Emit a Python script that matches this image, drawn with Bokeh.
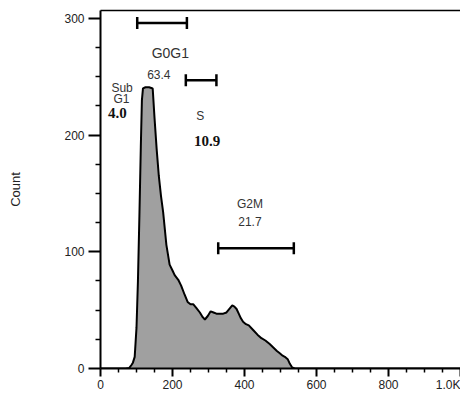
import numpy as np
from bokeh.plotting import figure
from bokeh.models import Range1d, FixedTicker, ColumnDataSource, LinearAxis
from bokeh.core.properties import value
from bokeh.embed import file_html
from bokeh.resources import INLINE

# ---- data ----
dna_content = [0, 70, 80, 86, 90, 95, 100, 104, 108, 112, 115, 118, 125, 135, 145, 150, 156, 162,
               168, 174, 183, 192, 200, 206, 216, 224, 234, 242, 250, 258, 266, 276, 284, 290,
               298, 306, 314, 322, 332, 341, 350, 358, 366, 372, 378, 384, 390, 396, 404, 412,
               424, 436, 447, 458, 470, 480, 490, 498, 506, 512, 520, 526, 532, 540, 1000]
cell_count = [0, 0, 0.5, 3, 5, 10, 35, 75, 130, 190, 230, 240, 241, 241, 240, 215, 188, 165,
              148, 134, 106, 89, 84, 80, 76, 71, 63, 57, 55, 55, 52, 48, 44, 42,
              45, 49, 48, 47, 47, 47, 48, 51, 54, 53, 51, 47, 43, 40, 38, 37,
              33, 29, 26, 24, 21, 18, 15, 13, 11, 10, 8, 4, 1, 0, 0]

x_ticks = [0, 200, 400, 600, 800, 1000]
x_minor = [50, 100, 150, 250, 300, 350, 450, 500, 550, 650, 700, 750, 850, 900, 950]
y_ticks = [0, 100, 200, 300]
y_minor = [25, 50, 75, 125, 150, 175, 225, 250, 275]
y_top = 306.8

gate_x0 = [102, 237, 327]
gate_x1 = [240, 322, 537]
gate_y = [296, 247, 103]

label_text = ["G0G1", "63.4", "Sub", "G1", "S", "G2M", "21.7"]
label_x = [194, 162, 60, 58, 277, 415, 415]
label_y = [270, 252, 240.5, 231, 216, 141, 126]
label_size = ["14px", "12px", "12px", "12px", "12px", "12px", "12px"]

pct_text = ["4.0", "10.9"]
pct_x = [47, 296]
pct_y = [219, 195]

p = figure(width=460, height=394, x_range=Range1d(0, 1000), y_range=Range1d(0, y_top),
           output_backend="svg", toolbar_location=None,
           min_border_left=100, min_border_right=0, min_border_top=10, min_border_bottom=24)
p.background_fill_color = "white"
p.border_fill_color = "white"
p.outline_line_color = None
p.xgrid.visible = False
p.ygrid.visible = False

# top frame border as a bare axis line
top_axis = LinearAxis(ticker=FixedTicker(ticks=[]), major_tick_out=0, major_tick_in=0,
                      minor_tick_out=0, minor_tick_in=0, major_label_text_font_size="0px",
                      axis_line_color="black", axis_line_width=1.5, major_label_standoff=0)
p.add_layout(top_axis, "above")

src = ColumnDataSource(dict(x=dna_content, y=cell_count))
p.varea(x="x", y1=0, y2="y", source=src, fill_color="#a0a0a0")
p.line(x="x", y="y", source=src, line_color="black", line_width=2)

# gates
p.segment(x0=gate_x0, y0=gate_y, x1=gate_x1, y1=gate_y, line_color="black", line_width=2.5)
p.scatter(x=gate_x0 + gate_x1, y=gate_y + gate_y, marker="dash", angle=np.pi / 2,
          size=12, line_color="black", line_width=2.5)

lsrc = ColumnDataSource(dict(x=label_x, y=label_y, t=label_text, s=label_size))
p.text(x="x", y="y", text="t", source=lsrc, text_font=value("Liberation Sans"),
       text_font_size="s", text_align="center", text_baseline="middle", text_color="#333333")
p.text(x=pct_x, y=pct_y, text=pct_text, text_font=value("Liberation Serif"),
       text_font_style="bold", text_font_size="15px", text_align="center",
       text_baseline="middle", text_color="#111111")

# axes
for ax in (p.below[0], p.left[0]):
    ax.axis_line_color = "black"
    ax.axis_line_width = 2
    ax.major_tick_line_color = "black"
    ax.major_tick_line_width = 2
    ax.minor_tick_line_color = "black"
    ax.minor_tick_line_width = 1.5
    ax.major_tick_in = 0
    ax.minor_tick_in = 0
    ax.major_label_text_font = "Liberation Sans"
    ax.major_label_text_font_size = "12px"
    ax.major_label_text_color = "#222222"

xa = p.below[0]
xa.ticker = FixedTicker(ticks=x_ticks, minor_ticks=x_minor)
xa.major_label_overrides = {1000: "1.0K"}
xa.major_tick_out = 8
xa.minor_tick_out = 4
xa.major_label_standoff = 1

ya = p.left[0]
ya.ticker = FixedTicker(ticks=y_ticks, minor_ticks=y_minor)
ya.major_tick_out = 12
ya.minor_tick_out = 5
ya.major_label_standoff = 4
ya.axis_label = "Count"
ya.axis_label_text_font = "Liberation Sans"
ya.axis_label_text_font_style = "normal"
ya.axis_label_text_font_size = "13px"
ya.axis_label_text_color = "#222222"
ya.axis_label_standoff = 38

open("out.html", "w").write(file_html(p, INLINE))
